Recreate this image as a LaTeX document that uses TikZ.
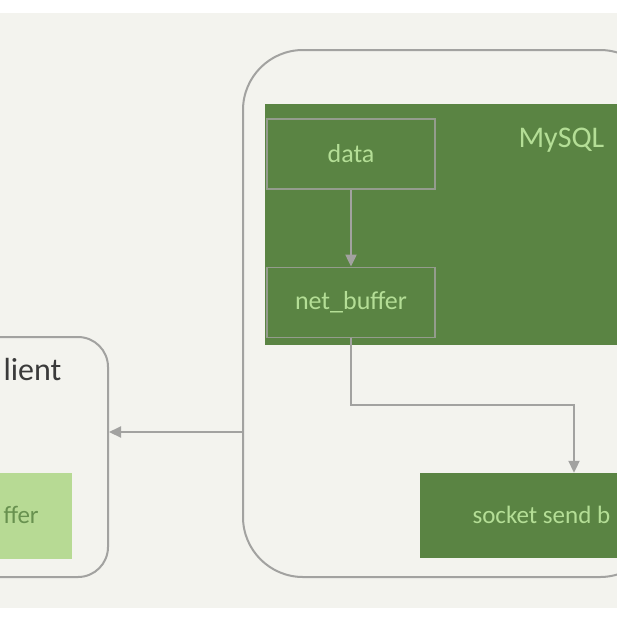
\documentclass[tikz,border=0pt]{standalone}
\usepackage{fontspec}
\setmainfont{Carlito}
\usetikzlibrary{arrows.meta,positioning}
\definecolor{paper}{HTML}{F3F3EE}
\definecolor{wireGrey}{HTML}{A2A2A0}
\definecolor{panelGreen}{HTML}{5A8443}
\definecolor{paleGreen}{HTML}{B7DA94}
\definecolor{mintText}{HTML}{B4DE96}
\definecolor{inkGrey}{HTML}{3A3A3A}

\tikzset{
  hostbox/.style={draw=wireGrey,line width=2pt,fill=paper,inner sep=0pt},
  panel/.style={fill=panelGreen,inner sep=0pt},
  bufbox/.style={draw=wireGrey!80!panelGreen,line width=1.8pt,fill=panelGreen,
    minimum width=168,minimum height=70,text=mintText,font=\fontsize{26}{28}\selectfont},
  flow/.style={draw=wireGrey,line width=2pt,-{Triangle[length=12pt,width=11pt]}}
}

\begin{document}
\begin{tikzpicture}[x=1pt,y=-1pt]
    \useasboundingbox (0,0) rectangle (617,616);
    \clip (0,0) rectangle (617,616);
    \fill[white] (0,0) rectangle (617,616);
    \fill[paper] (0,13) rectangle (617,608);
    % server side
    \node[hostbox,rounded corners=60pt,minimum width=417,minimum height=527]
      (server) at (451.5,313.5) {};
    \node[panel,minimum width=435,minimum height=241] (mysql) at (482.5,224.5) {};
    \node[anchor=west,text=mintText,font=\fontsize{30}{32}\selectfont]
      (mysqlLabel) at (515,140) {MySQL};
    \node[bufbox] (data) at (351,154) {data};
    \node[bufbox] (netBuffer) at (351,302.5) {net\_buffer};
    \node[panel,minimum width=280,minimum height=85] (sendBuffer) at (560,515.5) {};
    \node[anchor=west,text=mintText,font=\fontsize{25}{27}\selectfont]
      (sendLabel) at (469,515) {socket send b};
    % client side
    \node[hostbox,rounded corners=30pt,minimum width=148,minimum height=240]
      (client) at (34,457) {};
    \node[anchor=west,text=inkGrey,font=\fontsize{32}{34}\selectfont]
      (clientLabel) at (0,369) {lient};
    \node[fill=paleGreen,inner sep=0pt,minimum width=132,minimum height=86]
      (recvBuffer) at (6,516) {};
    \node[anchor=west,text=panelGreen!85!paleGreen,font=\fontsize{25}{27}\selectfont]
      (recvLabel) at (0,515) {ffer};
    % flow
    \coordinate (turn) at (574,405);
    \draw[flow] (data) -- (netBuffer);
    \draw[flow] (netBuffer.south) |- (turn) -- (turn |- sendBuffer.north);
    \draw[flow] (server.west |- 0,432) -- (client.east |- 0,432);
\end{tikzpicture}
\end{document}
